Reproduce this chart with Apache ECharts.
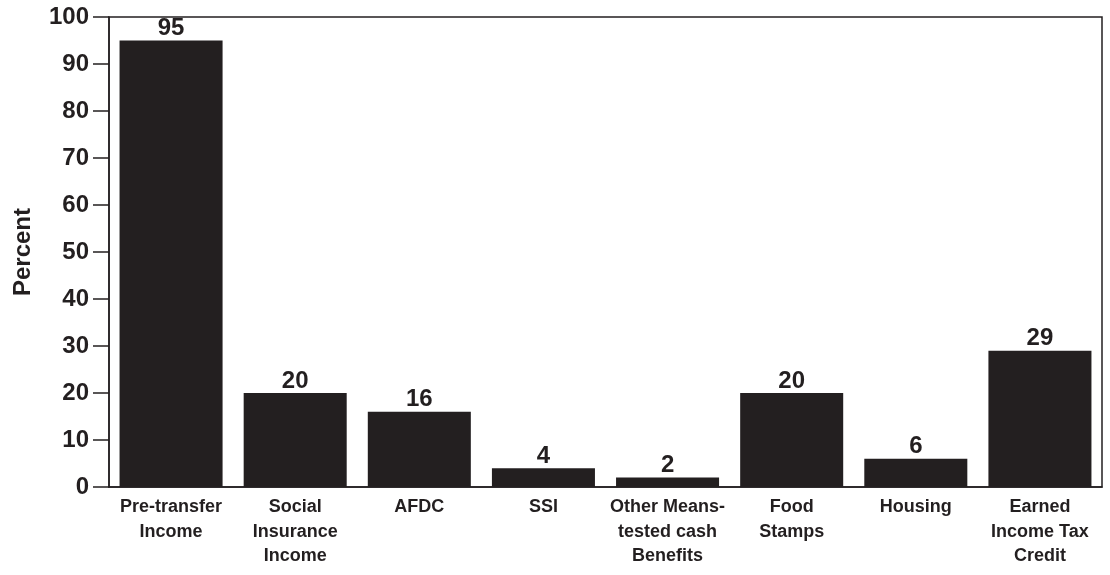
<!DOCTYPE html>
<html>
<head>
<meta charset="utf-8">
<script src="https://cdn.jsdelivr.net/npm/echarts@6/dist/echarts.min.js"></script>
<style>
  html, body { margin: 0; padding: 0; background: #fff; }
  #chart { width: 1110px; height: 575px; }
</style>
</head>
<body>
<div id="chart"></div>
<script>
var categories = [
    'Pre-transfer\nIncome',
    'Social\nInsurance\nIncome',
    'AFDC',
    'SSI',
    'Other Means-\ntested cash\nBenefits',
    'Food\nStamps',
    'Housing',
    'Earned\nIncome Tax\nCredit'
];
var percents = [95, 20, 16, 4, 2, 20, 6, 29];
var yTicks = [0, 10, 20, 30, 40, 50, 60, 70, 80, 90, 100];

var ink = '#231f20';
var font = 'Liberation Sans, Arial, sans-serif';

var chart = echarts.init(document.getElementById('chart'));
var option = {
    animation: false,
    grid: {
        left: 109,
        right: 8,
        top: 17,
        bottom: 88,
        show: true,
        borderColor: ink,
        borderWidth: 1.5,
        backgroundColor: 'transparent'
    },
    xAxis: {
        type: 'category',
        data: categories,
        axisLine: { lineStyle: { color: ink, width: 1.5 } },
        axisTick: { show: false },
        axisLabel: {
            interval: 0,
            margin: 8,
            color: ink,
            fontFamily: font,
            fontWeight: 'bold',
            fontSize: 18,
            lineHeight: 24.5,
            verticalAlign: 'top'
        }
    },
    yAxis: {
        type: 'value',
        min: yTicks[0],
        max: yTicks[yTicks.length - 1],
        interval: 10,
        name: 'Percent',
        nameLocation: 'middle',
        nameGap: 74,
        nameRotate: 90,
        nameTextStyle: {
            color: ink,
            fontFamily: font,
            fontWeight: 'bold',
            fontSize: 24
        },
        splitLine: { show: false },
        axisLine: { show: true, lineStyle: { color: ink, width: 1.5 } },
        axisTick: { show: true, length: 16, lineStyle: { color: ink, width: 1.5 } },
        axisLabel: {
            margin: 20,
            color: ink,
            fontFamily: font,
            fontWeight: 'bold',
            fontSize: 24
        }
    },
    series: [
        {
            type: 'bar',
            data: percents,
            barWidth: '83%',
            itemStyle: { color: ink },
            label: {
                show: true,
                position: 'top',
                distance: 0,
                color: ink,
                fontFamily: font,
                fontWeight: 'bold',
                fontSize: 24
            }
        }
    ]
};
chart.setOption(option);
</script>
</body>
</html>
